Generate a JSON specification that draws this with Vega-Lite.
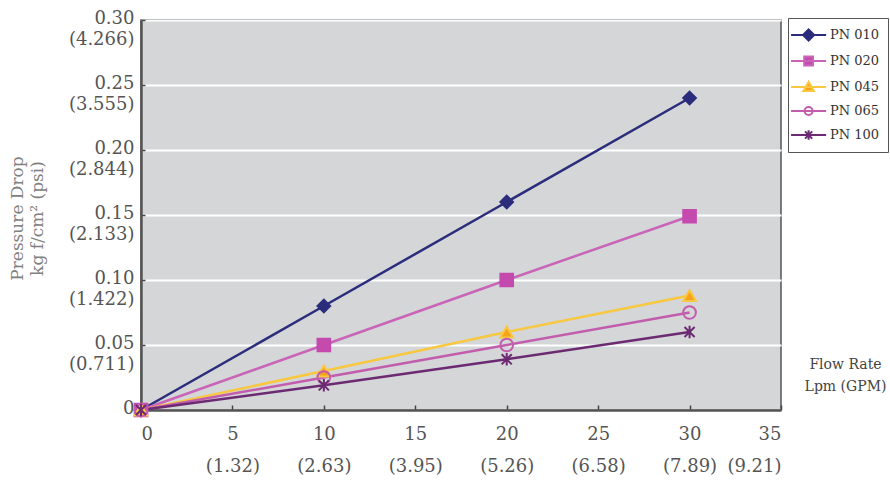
{
  "$schema": "https://vega.github.io/schema/vega-lite/v6.json",
  "width": 640,
  "height": 390,
  "autosize": "none",
  "padding": {"left": 141, "top": 20, "right": 109, "bottom": 75},
  "background": "white",
  "data": {
    "values": [
      {"series": "PN 010", "flow": 0, "drop": 0},
      {"series": "PN 010", "flow": 10, "drop": 0.08},
      {"series": "PN 010", "flow": 20, "drop": 0.16},
      {"series": "PN 010", "flow": 30, "drop": 0.24},
      {"series": "PN 020", "flow": 0, "drop": 0},
      {"series": "PN 020", "flow": 10, "drop": 0.05},
      {"series": "PN 020", "flow": 20, "drop": 0.1},
      {"series": "PN 020", "flow": 30, "drop": 0.149},
      {"series": "PN 045", "flow": 0, "drop": 0},
      {"series": "PN 045", "flow": 10, "drop": 0.03},
      {"series": "PN 045", "flow": 20, "drop": 0.06},
      {"series": "PN 045", "flow": 30, "drop": 0.088},
      {"series": "PN 065", "flow": 0, "drop": 0},
      {"series": "PN 065", "flow": 10, "drop": 0.025},
      {"series": "PN 065", "flow": 20, "drop": 0.05},
      {"series": "PN 065", "flow": 30, "drop": 0.075},
      {"series": "PN 100", "flow": 0, "drop": 0},
      {"series": "PN 100", "flow": 10, "drop": 0.019},
      {"series": "PN 100", "flow": 20, "drop": 0.039},
      {"series": "PN 100", "flow": 30, "drop": 0.06}
    ]
  },
  "encoding": {
    "x": {
      "field": "flow",
      "type": "quantitative",
      "scale": {"domain": [0, 35], "nice": false},
      "axis": {
        "values": [0, 5, 10, 15, 20, 25, 30, 35],
        "grid": false,
        "labelExpr": "datum.value == 0 ? '0' : [format(datum.value, 'd'), '(' + format(datum.value * 0.2631, '.2f') + ')']",
        "labelLineHeight": 32,
        "labelPadding": 20,
        "tickSize": -5,
        "title": ["Flow Rate", "Lpm (GPM)"],
        "titleX": 704,
        "titleY": -46,
        "titleAlign": "center",
        "titleBaseline": "middle",
        "titleFontSize": 14,
        "titleColor": "#444",
        "titleLineHeight": 22,
        "titleFontWeight": "normal"
      }
    },
    "y": {
      "field": "drop",
      "type": "quantitative",
      "scale": {"domain": [0, 0.3], "nice": false},
      "axis": {
        "values": [0, 0.05, 0.1, 0.15, 0.2, 0.25, 0.3],
        "grid": true,
        "gridColor": "#ffffff",
        "gridWidth": 2,
        "gridOpacity": 1,
        "labelExpr": "datum.value == 0 ? '0' : [format(datum.value, '.2f'), '(' + format(datum.value * 14.22, '.3f') + ')']",
        "labelBaseline": "top",
        "labelOffset": -11,
        "labelLineHeight": 21,
        "labelPadding": 11,
        "tickSize": -4,
        "title": ["Pressure Drop", "kg f/cm² (psi)"],
        "titleX": -124,
        "titleY": 198,
        "titleAngle": -90,
        "titleAlign": "center",
        "titleBaseline": "middle",
        "titleFontSize": 17,
        "titleColor": "#808080",
        "titleLineHeight": 20,
        "titleFontWeight": "normal"
      }
    }
  },
  "layer": [
    {
      "mark": {"type": "line", "strokeWidth": 2.5},
      "encoding": {
        "stroke": {
          "field": "series",
          "type": "nominal",
          "scale": {
            "domain": ["PN 010", "PN 020", "PN 045", "PN 065", "PN 100"],
            "range": ["#2b2d7c", "#c964b8", "#f8c840", "#c25dae", "#6b2a72"]
          },
          "legend": null
        }
      }
    },
    {
      "mark": {"type": "point", "filled": false, "size": 160, "strokeWidth": 2, "opacity": 1},
      "encoding": {
        "stroke": {
          "field": "series",
          "type": "nominal",
          "scale": {
            "domain": ["PN 010", "PN 020", "PN 045", "PN 065", "PN 100"],
            "range": ["#2b2d7c", "#c44aae", "#f8c840", "#c25dae", "#6b2a72"]
          },
          "legend": null
        },
        "fill": {
          "field": "series",
          "type": "nominal",
          "scale": {
            "domain": ["PN 010", "PN 020", "PN 045", "PN 065", "PN 100"],
            "range": ["#2b2d7c", "#c44aae", "#f7a21b", "transparent", "transparent"]
          },
          "legend": null
        },
        "shape": {
          "field": "series",
          "type": "nominal",
          "scale": {
            "domain": ["PN 010", "PN 020", "PN 045", "PN 065", "PN 100"],
            "range": ["diamond", "square", "triangle-up", "circle", "M-0.8,-0.8L0.8,0.8M-0.8,0.8L0.8,-0.8M0,-1V1"]
          },
          "legend": null
        }
      }
    },
    {
      "transform": [{"filter": "false"}],
      "mark": {"type": "point", "filled": false, "size": 256, "strokeWidth": 2, "opacity": 1},
      "encoding": {
        "stroke": {
          "field": "series",
          "type": "nominal",
          "scale": {
            "domain": ["PN 010", "PN 020", "PN 045", "PN 065", "PN 100"],
            "range": ["#2b2d7c", "#c964b8", "#f8c840", "#c25dae", "#6b2a72"]
          },
          "legend": {
            "title": null, "orient": "none", "legendX": 647, "legendY": -2, "padding": 8,
            "symbolSize": 256, "symbolStrokeWidth": 2, "rowPadding": 7, "labelOffset": 16,
            "labelFontSize": 13, "labelFont": "DejaVu Serif", "labelColor": "#333",
            "strokeColor": "#555", "fillColor": "white"
          }
        },
        "fill": {
          "field": "series",
          "type": "nominal",
          "scale": {
            "domain": ["PN 010", "PN 020", "PN 045", "PN 065", "PN 100"],
            "range": ["#2b2d7c", "#c44aae", "#f7a21b", "transparent", "transparent"]
          },
          "legend": {
            "title": null, "orient": "none", "legendX": 647, "legendY": -2, "padding": 8,
            "symbolSize": 256, "symbolStrokeWidth": 2, "rowPadding": 7, "labelOffset": 16,
            "labelFontSize": 13, "labelFont": "DejaVu Serif", "labelColor": "#333",
            "strokeColor": "#555", "fillColor": "white"
          }
        },
        "shape": {
          "field": "series",
          "type": "nominal",
          "scale": {
            "domain": ["PN 010", "PN 020", "PN 045", "PN 065", "PN 100"],
            "range": [
              "M-1.74,0H2.64M0.45,-0.7L1.15,0L0.45,0.7L-0.25,0Z",
              "M-1.74,0H2.64M-0.1,-0.55H1.0V0.55H-0.1Z",
              "M-1.74,0H2.64M0.45,-0.65L1.1,0.5H-0.2Z",
              "M-1.74,0H2.64M0.95,0A0.5,0.5 0 1,1 -0.05,0A0.5,0.5 0 1,1 0.95,0Z",
              "M-1.74,0H2.64M0,-0.45L0.9,0.45M0,0.45L0.9,-0.45M0.45,-0.6V0.6"
            ]
          },
          "legend": {
            "title": null, "orient": "none", "legendX": 647, "legendY": -2, "padding": 8,
            "symbolSize": 256, "symbolStrokeWidth": 2, "rowPadding": 7, "labelOffset": 16,
            "labelFontSize": 13, "labelFont": "DejaVu Serif", "labelColor": "#333",
            "strokeColor": "#555", "fillColor": "white"
          }
        }
      }
    }
  ],
  "resolve": {"scale": {"stroke": "independent", "fill": "independent", "shape": "independent"}},
  "config": {
    "view": {"fill": "#d5d6d8", "stroke": "#555", "strokeWidth": 1.5},
    "axis": {
      "labelFont": "DejaVu Serif",
      "labelFontSize": 18,
      "labelColor": "#555",
      "titleFont": "DejaVu Serif",
      "domainColor": "#555",
      "domainWidth": 2.5,
      "tickColor": "#444",
      "tickWidth": 1.5
    }
  }
}
